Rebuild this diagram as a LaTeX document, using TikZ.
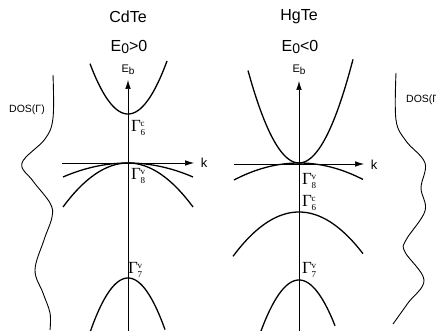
\documentclass[tikz,border=0pt]{standalone}
\usepackage{fontspec}
\setmainfont{Liberation Sans}
\newfontfamily\gfont{Liberation Serif}
\newcommand\gstack[2]{{\fontsize{17}{17}\selectfont\gfont Γ}\kern-0.3pt\raisebox{-3.2pt}{\gfont\fontsize{9}{6.5}\selectfont\shortstack[l]{#1\\#2}}}
\usetikzlibrary{arrows.meta}
\tikzset{
  axis/.style={line width=0.6pt,-{Latex[length=9pt,width=5.5pt]}},
  band/.style={line width=1.3pt},
  dos/.style={line width=0.9pt},
  title/.style={font=\fontsize{16}{16}\selectfont},
  lbl/.style={font=\fontsize{11}{11}\selectfont},
  gam/.style={inner sep=0pt,anchor=west},
}
\begin{document}
\begin{tikzpicture}[x=1pt,y=-1pt]
\useasboundingbox (0,0) rectangle (436,331);
% ---------- left: CdTe ----------
\node[title] (t1) at (128,17) {CdTe};
\node[title] (e1) at (129,47) {E{\fontsize{14}{14}\selectfont\raisebox{-2.5pt}{0}}>0};
\coordinate (v1s) at (128,331);
\coordinate (v1e) at (128,80);
\coordinate (h1s) at (62,163);
\coordinate (h1e) at (194,163);
\draw[axis] (v1s) -- (v1e);
\draw[axis] (h1s) -- (h1e);
\node[lbl] (eb1) at (128,70) {E\raisebox{-1.5pt}{\fontsize{10}{10}\selectfont b}};
\node[lbl,font=\fontsize{13}{13}\selectfont] (k1) at (204,163) {k};
% bands
\draw[band] plot[domain=-38:39,samples=60] ({128+\x},{114-49*(\x/37.5)*(\x/37.5)});
\draw[band] plot[domain=-65:65,samples=60] ({128+\x},{163+44*(\x/65)*(\x/65)});
\draw[band] plot[domain=-65:65,samples=60] ({128+\x},{163+14*(\x/65)*(\x/65)});
\draw[band] plot[domain=-38:37,samples=60] ({128+\x},{278+53*(\x/37.5)*(\x/37.5)});
% labels
\node[gam] (g6c1) at (131,128) {\gstack{c}{6}};
\node[gam] (g8v1) at (131,176) {\gstack{v}{8}};
\node[gam] (g7v1) at (128,270) {\gstack{v}{7}};
% DOS
\draw[dos] plot[smooth,tension=0.6] coordinates {(53,75) (53,118) (45,139) (22,163) (33,181) (50,203) (52,217) (44,240) (35,270) (43,293) (50,313) (50,330)};
\node[lbl,font=\fontsize{10.5}{10.5}\selectfont] (dos1) at (27,110) {DOS(Γ)};
% ---------- right: HgTe ----------
\node[title] (t2) at (299,17) {HgTe};
\node[title] (e2) at (300,47) {E{\fontsize{14}{14}\selectfont\raisebox{-2.5pt}{0}}<0};
\coordinate (v2s) at (299,331);
\coordinate (v2e) at (299,81);
\coordinate (h2s) at (234,164);
\coordinate (h2e) at (364,164);
\draw[axis] (v2s) -- (v2e);
\draw[axis] (h2s) -- (h2e);
\node[lbl] (eb2) at (299,70) {E\raisebox{-1.5pt}{\fontsize{10}{10}\selectfont b}};
\node[lbl,font=\fontsize{13}{13}\selectfont] (k2) at (374,165) {k};
% bands
\draw[band] plot[domain=-51:54,samples=60] ({299+\x},{163-98*(\x/52.5)*(\x/52.5)});
\draw[band] plot[domain=-65:64,samples=60] ({299+\x},{163+17*(\x/65)*(\x/65)});
\draw[band] plot[domain=-66:64,samples=60] ({299+\x},{212+43*(\x/65)*(\x/65)});
\draw[band] plot[domain=-39:36,samples=60] ({299+\x},{280+51*(\x/38)*(\x/38)});
% labels
\node[gam] (g8v2) at (302,181) {\gstack{v}{8}};
\node[gam] (g6c2) at (302,203) {\gstack{c}{6}};
\node[gam] (g7v2) at (302,270) {\gstack{v}{7}};
% DOS
\draw[dos] plot[smooth,tension=0.6] coordinates {(396,73) (396,120) (406,141) (425,163) (421,188) (425,211) (406,240) (405,252) (424,280) (408,303) (393,324)};
\node[lbl,font=\fontsize{10.5}{10.5}\selectfont,anchor=west,inner sep=0pt] (dos2) at (406,100) {DOS(Γ)};
\end{tikzpicture}
\end{document}
